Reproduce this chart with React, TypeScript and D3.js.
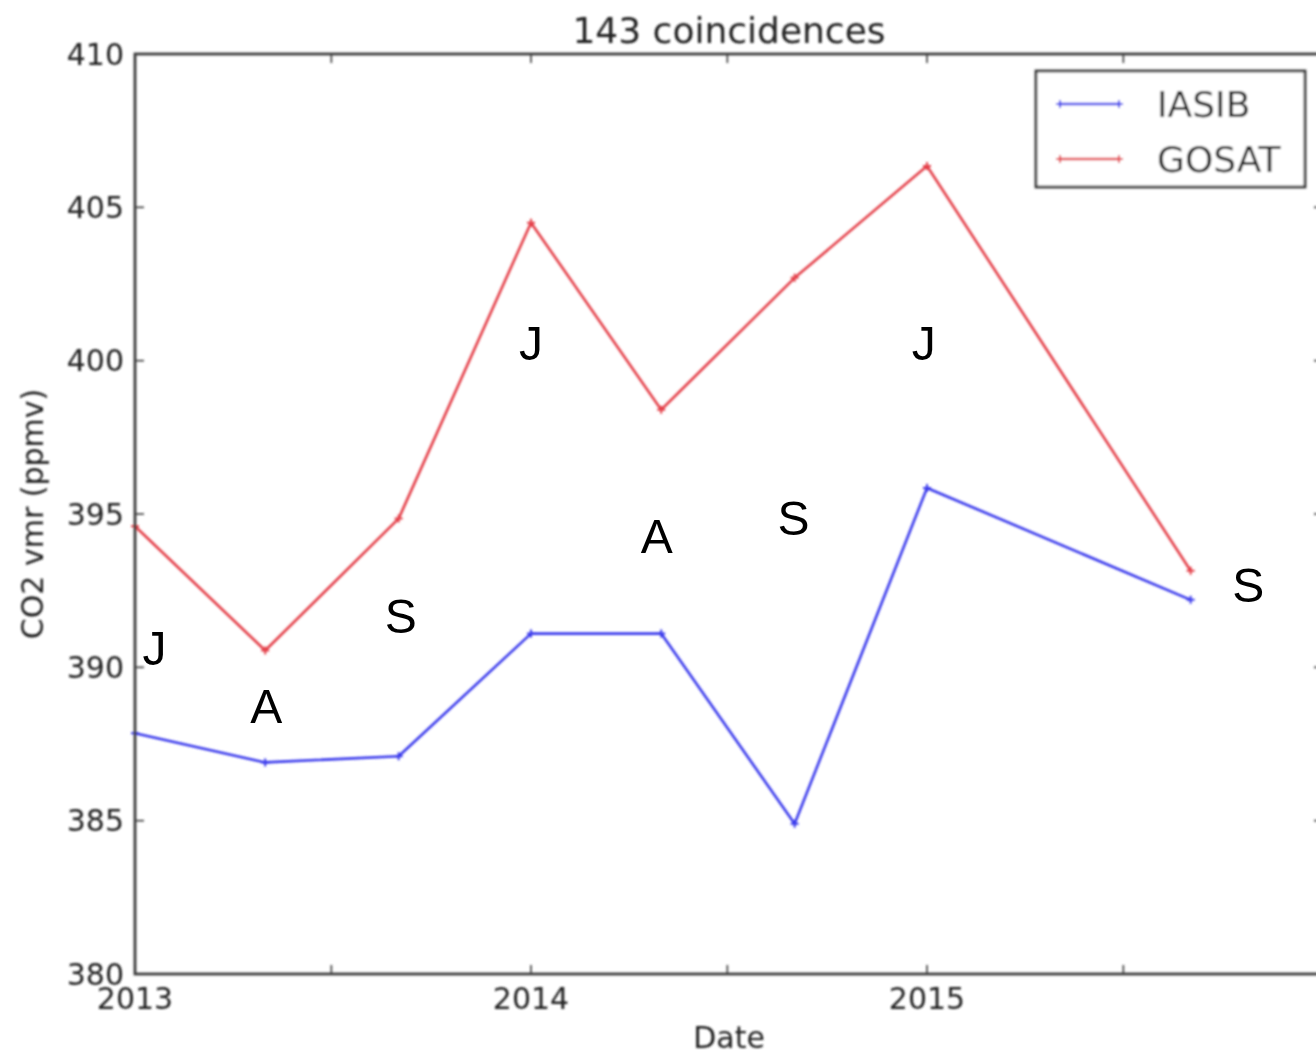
import React from "react";
import * as d3 from "d3";

// Observation dates (one every four months)
const dates = [
  "2013-01-01", "2013-05-01", "2013-09-01", "2014-01-01",
  "2014-05-01", "2014-09-01", "2015-01-01", "2015-09-01",
];

// CO2 volume mixing ratio, ppmv
const iasib = [387.85, 386.9, 387.1, 391.1, 391.1, 384.9, 395.85, 392.2];
const gosat = [394.6, 390.55, 394.85, 404.5, 398.4, 402.7, 406.35, 393.15];

// Season letters placed on the plot (date, ppmv at baseline)
const seasonLetters = ["J", "A", "S", "J", "A", "S", "J", "S"];
const seasonDates = [
  "2013-01-19", "2013-05-02", "2013-09-03", "2014-01-01",
  "2014-04-27", "2014-08-31", "2014-12-29", "2015-10-24",
];
const seasonValues = [390.08, 388.18, 391.12, 400.02, 393.73, 394.32, 400.02, 392.13];

const yTicks = [380, 385, 390, 395, 400, 405, 410];
const xMajorTicks = ["2013-01-01", "2014-01-01", "2015-01-01"];
const xMinorTicks = ["2013-07-01", "2014-07-01", "2015-07-01"];
const xDomain = ["2013-01-01", "2016-01-01"];
const yDomain = [380, 410];

const seriesNames = ["IASIB", "GOSAT"];
const seriesColors = ["#3a3aec", "#e4404a"];

const W = 1316;
const H = 1055;
const left = 135;
const right = 1323;
const top = 54;
const bottom = 974;

const parse = (s: string) => new Date(s + "T00:00:00Z");

export default function App() {
  const x = d3.scaleUtc().domain(xDomain.map(parse)).range([left, right]);
  const y = d3.scaleLinear().domain(yDomain).range([bottom, top]);

  const line = d3
    .line<[Date, number]>()
    .x((d) => x(d[0]))
    .y((d) => y(d[1]));

  const series = [iasib, gosat].map((vals) =>
    vals.map((v, i) => [parse(dates[i]), v] as [Date, number])
  );

  const cross = (cx: number, cy: number, r = 4) =>
    `M${cx - r},${cy}h${2 * r}M${cx},${cy - r}v${2 * r}`;

  const axisColor = "#3a3a3a";
  const textColor = "#222";
  const mplFont = "DejaVu Sans, sans-serif";
  const tickLen = 9;

  return (
    <svg
      width={W}
      height={H}
      style={{ position: "absolute", left: 0, top: 0, background: "#fff" }}
    >
      <defs>
        <filter id="soft" x="-5%" y="-5%" width="110%" height="110%">
          <feGaussianBlur stdDeviation="0.85" />
        </filter>
      </defs>
      <g filter="url(#soft)">
        {/* data lines */}
        {series.map((s, k) => (
          <g key={seriesNames[k]}>
            <path
              d={line(s) || ""}
              fill="none"
              stroke={seriesColors[k]}
              strokeWidth={2.6}
              strokeLinejoin="round"
            />
            {s.map((d, i) => (
              <path
                key={i}
                d={cross(x(d[0]), y(d[1]))}
                stroke={seriesColors[k]}
                strokeWidth={2}
              />
            ))}
          </g>
        ))}

        {/* frame */}
        <rect
          x={left}
          y={top}
          width={right - left}
          height={bottom - top}
          fill="none"
          stroke={axisColor}
          strokeWidth={2.8}
        />

        {/* y ticks */}
        {yTicks.map((t) => (
          <g key={t}>
            <line x1={left} x2={left + tickLen} y1={y(t)} y2={y(t)} stroke={axisColor} strokeWidth={1.6} />
            <line x1={right} x2={right - tickLen} y1={y(t)} y2={y(t)} stroke={axisColor} strokeWidth={1.6} />
            <text
              x={left - 11}
              y={y(t)}
              dy="0.36em"
              textAnchor="end"
              fontFamily={mplFont}
              fontSize={30}
              fill={textColor}
            >
              {t}
            </text>
          </g>
        ))}

        {/* x ticks */}
        {[...xMajorTicks, ...xMinorTicks].map((t) => {
          const px = x(parse(t));
          return (
            <g key={t}>
              <line x1={px} x2={px} y1={bottom} y2={bottom - tickLen} stroke={axisColor} strokeWidth={1.6} />
              <line x1={px} x2={px} y1={top} y2={top + tickLen} stroke={axisColor} strokeWidth={1.6} />
            </g>
          );
        })}
        {xMajorTicks.map((t) => (
          <text
            key={t}
            x={x(parse(t))}
            y={bottom + 35}
            textAnchor="middle"
            fontFamily={mplFont}
            fontSize={30}
            fill={textColor}
          >
            {t.slice(0, 4)}
          </text>
        ))}

        {/* title and axis labels */}
        <text x={(left + right) / 2} y={43} textAnchor="middle" fontFamily={mplFont} fontSize={36} fill={textColor}>
          143 coincidences
        </text>
        <text x={(left + right) / 2} y={1048} textAnchor="middle" fontFamily={mplFont} fontSize={30} fill={textColor}>
          Date
        </text>
        <text
          transform={`translate(43,${(top + bottom) / 2}) rotate(-90)`}
          textAnchor="middle"
          fontFamily={mplFont}
          fontSize={30}
          fill={textColor}
        >
          CO2 vmr (ppmv)
        </text>

        {/* legend */}
        <rect x={1036} y={71} width={269} height={116} fill="#fff" stroke={axisColor} strokeWidth={2.8} />
        {seriesNames.map((name, k) => {
          const ly = 104 + k * 55;
          return (
            <g key={name}>
              <line x1={1060} x2={1119} y1={ly} y2={ly} stroke={seriesColors[k]} strokeWidth={2.6} />
              <path d={cross(1060, ly) + cross(1119, ly)} stroke={seriesColors[k]} strokeWidth={2} />
              <text x={1157} y={ly + 13} fontFamily={mplFont} fontSize={36} fill={textColor}>
                {name}
              </text>
            </g>
          );
        })}
      </g>

      {/* season letters */}
      {seasonLetters.map((l, i) => (
        <text
          key={i}
          x={x(parse(seasonDates[i]))}
          y={y(seasonValues[i])}
          textAnchor="middle"
          fontFamily="Liberation Sans, Arial, sans-serif"
          fontSize={48}
          fill="#000"
        >
          {l}
        </text>
      ))}
    </svg>
  );
}
